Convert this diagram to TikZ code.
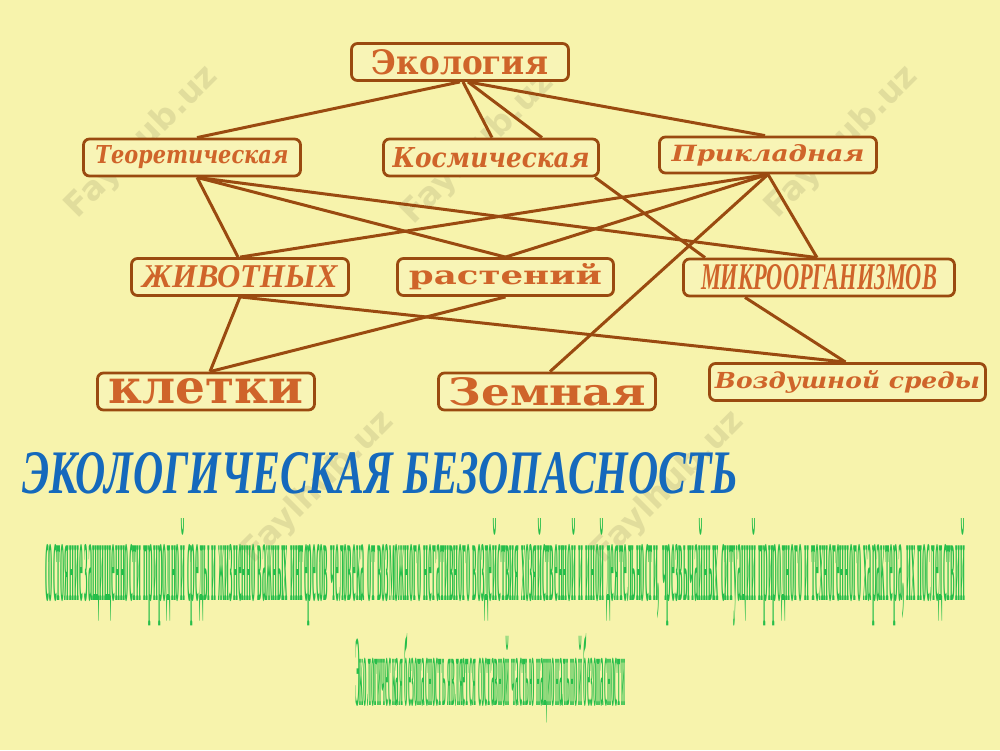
\documentclass[tikz,border=0pt]{standalone}
\usepackage{fontspec}
\setmainfont{Liberation Serif}
\newfontfamily\wmfont{DejaVu Sans}
\newfontfamily\heavyfont{DejaVu Serif}
\usetikzlibrary{calc}
\definecolor{bg}{HTML}{F7F3AC}
\definecolor{boxfill}{HTML}{F8F4B6}
\definecolor{brownline}{HTML}{9A4A10}
\definecolor{watext}{HTML}{CF642A}
\definecolor{titleblue}{HTML}{1569BC}
\definecolor{greentext}{HTML}{26BE4A}
\definecolor{wmgray}{HTML}{7E7A55}
\newcommand{\wa}[3]{\resizebox{#1pt}{#2pt}{#3}}
\tikzset{
  box/.style={draw=brownline, line width=2.8pt, rounded corners=6pt, fill=boxfill,
    inner sep=0pt, text=watext, minimum height=37pt},
  link/.style={draw=brownline, line width=3pt},
  wmark/.style={rotate=45, text=wmgray, opacity=0.18, inner sep=0pt,
    font=\wmfont\bfseries\fontsize{33}{33}\selectfont},
  defn/.style={text=greentext, inner sep=0pt, anchor=base west}
}
\begin{document}
\begin{tikzpicture}[x=1pt,y=-1pt]
\useasboundingbox (0,0) rectangle (1000,750);
\fill[bg] (0,0) rectangle (1000,750);

% watermarks (faint, underneath)
\node[wmark] (wm1) at (142,142) {Faylhub.uz};
\node[wmark] (wm2) at (478,148) {Faylhub.uz};
\node[wmark] (wm3) at (842,142) {Faylhub.uz};
\node[wmark] (wm5) at (318,487) {Faylhub.uz};
\node[wmark] (wm6) at (668,487) {Faylhub.uz};

% boxes
\node[box, minimum width=217pt] (eco) at (460,62) {\wa{176}{25}{\heavyfont\bfseries Экология}};
\node[box, minimum width=217pt] (teo) at (192,157.5) {\wa{193}{18}{\heavyfont\bfseries\itshape Теоретическая}};
\node[box, minimum width=215pt] (kos) at (491,157.5) {\wa{197}{20}{\heavyfont\bfseries\itshape Космическая}};
\node[box, minimum width=217pt, minimum height=36pt] (pri) at (768,155) {\wa{193}{17}{\heavyfont\bfseries\itshape Прикладная}};
\node[box, minimum width=217pt] (ziv) at (240,277) {\wa{195}{22}{\bfseries\itshape ЖИВОТНЫХ}};
\node[box, minimum width=216pt] (ras) at (505.5,277) {\wa{193}{21}{\heavyfont\bfseries растений}};
\node[box, minimum width=271pt] (mik) at (819,277.5) {\wa{236}{25}{\bfseries\itshape МИКРООРГАНИЗМОВ}};
\node[box, minimum width=217pt] (kle) at (206,391.5) {\wa{195}{25}{\heavyfont\bfseries клетки}};
\node[box, minimum width=217pt] (zem) at (547,391.5) {\wa{197}{28}{\heavyfont\bfseries Земная}};
\node[box, minimum width=276pt] (voz) at (847.5,382) {\wa{265}{18}{\heavyfont\bfseries\itshape Воздушной среды}};

% links
\draw[link] (eco.south) -- ($(teo.north)+(5,0)$);
\draw[link] ($(eco.south)+(3,0)$) -- ($(kos.north)+(1,0)$);
\draw[link] ($(eco.south)+(8,0)$) -- ($(kos.north)+(51,0)$);
\draw[link] ($(eco.south)+(8,0)$) -- ($(pri.north)+(-3,0)$);
\draw[link] ($(teo.south)+(5,0)$) -- ($(ziv.north)+(-2,0)$);
\draw[link] ($(teo.south)+(5,0)$) -- (ras.north);
\draw[link] ($(teo.south)+(5,0)$) -- ($(mik.north)+(-2,0)$);
\draw[link] ($(kos.south)+(104,0)$) -- ($(mik.north)+(-114,0)$);
\draw[link] (pri.south) -- (ziv.north);
\draw[link] (pri.south) -- (ras.north);
\draw[link] (pri.south) -- ($(zem.north)+(3,0)$);
\draw[link] (pri.south) -- ($(mik.north)+(-2,0)$);
\draw[link] (ziv.south) -- ($(kle.north)+(4,0)$);
\draw[link] (ziv.south) -- ($(voz.north)+(-2,0)$);
\draw[link] (ras.south) -- ($(kle.north)+(4,0)$);
\draw[link] ($(mik.south)+(-74,0)$) -- ($(voz.north)+(-2,0)$);

% title
\node[text=titleblue, inner sep=0pt, anchor=base west] (title) at (22,493)
  {\resizebox{716pt}{41pt}{\bfseries\itshape ЭКОЛОГИЧЕСКАЯ БЕЗОПАСНОСТЬ}};

% definition text (highly condensed)
\node[defn] (def1) at (45,600)
  {\resizebox{920pt}{82pt}{\bfseries состояние защищенности природной среды и жизненно важных интересов человека от возможного негативного воздействия хозяйственной и иной деятельности, чрезвычайных ситуаций природного и техногенного характера, их последствий}};
\node[defn] (def2) at (355,705)
  {\resizebox{270pt}{72pt}{\bfseries Экологическая безопасность является составной частью национальной безопасности}};
\end{tikzpicture}
\end{document}
